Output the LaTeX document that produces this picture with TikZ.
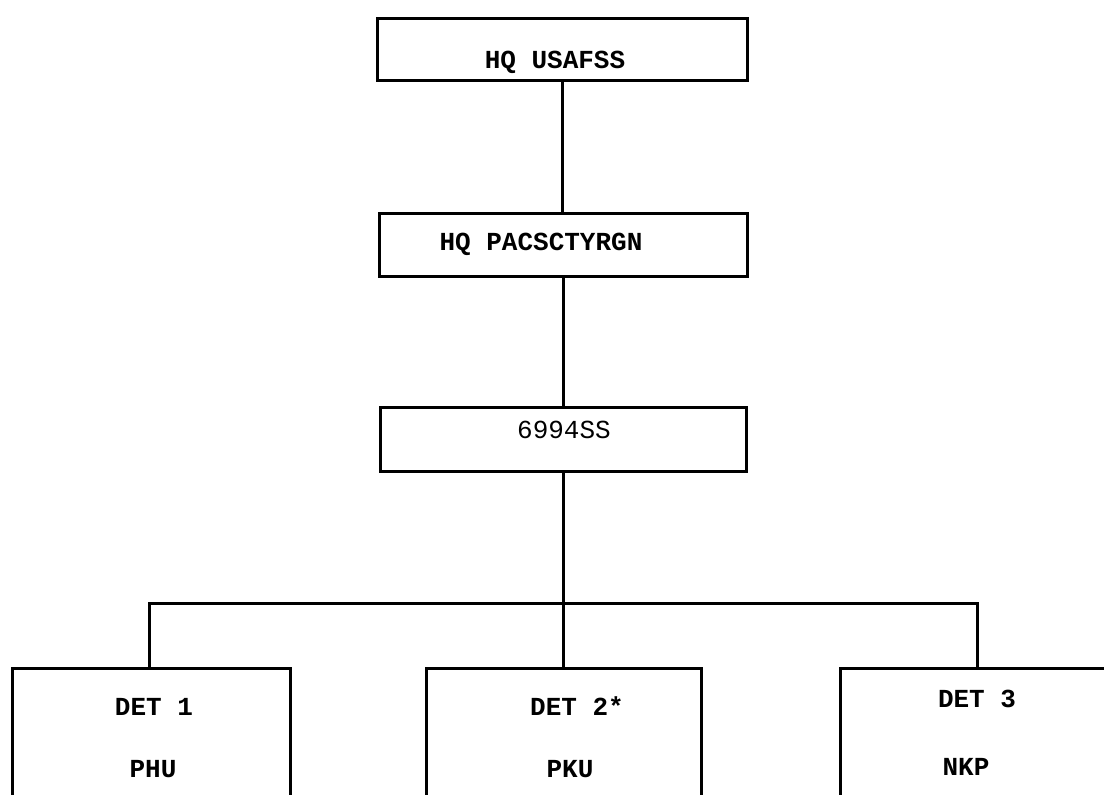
\documentclass[tikz,border=0pt]{standalone}
\usepackage{fontspec}
\newfontfamily\tw{Liberation Mono}
\begin{document}
\begin{tikzpicture}[x=1pt,y=-1pt,
  box/.style={draw, line width=3pt, inner sep=0pt, outer sep=0pt},
  lbl/.style={font=\tw\bfseries\fontsize{26}{26}\selectfont, inner sep=0pt, anchor=base},
  conn/.style={line width=3pt}]
\useasboundingbox (0,0) rectangle (1104,795);
\clip (0,0) rectangle (1104,795);
% boxes
\node[box, minimum width=370pt, minimum height=62pt] (b1) at (562,49) {};
\node[box, minimum width=368pt, minimum height=63pt] (b2) at (563,244.5) {};
\node[box, minimum width=366pt, minimum height=64pt] (b3) at (563,439) {};
\node[box, minimum width=278pt, minimum height=150pt] (d1) at (151,743) {};
\node[box, minimum width=275pt, minimum height=150pt] (d2) at (564,743) {};
\node[box, minimum width=280pt, minimum height=150pt] (d3) at (980,743) {};
% texts
\node[lbl] (t1) at (555,68) {HQ USAFSS};
\node[lbl] (t2) at (541,250) {HQ PACSCTYRGN};
\node[lbl, font=\tw\fontsize{26}{26}\selectfont] (t3) at (564,438) {6994SS};
\node[lbl] (t4) at (154,715) {DET 1};
\node[lbl] (t5) at (153,777) {PHU};
\node[lbl] (t6) at (577,715) {DET 2*};
\node[lbl] (t7) at (570,777) {PKU};
\node[lbl] (t8) at (977,707) {DET 3};
\node[lbl] (t9) at (966,775) {NKP};
% connectors
\coordinate (j1) at (149,603);
\coordinate (j3) at (977,603);
\draw[conn] (b1.south) -- (b1.south |- b2.north);
\draw[conn] (b2.south) -- (b2.south |- b3.north);
\draw[conn] (b3.south) -- (b3.south |- j1) -- (b3.south |- d2.north);
\draw[conn] (j1 |- d1.north) -- (j1) -- (j3) -- (j3 |- d3.north);
\end{tikzpicture}
\end{document}
